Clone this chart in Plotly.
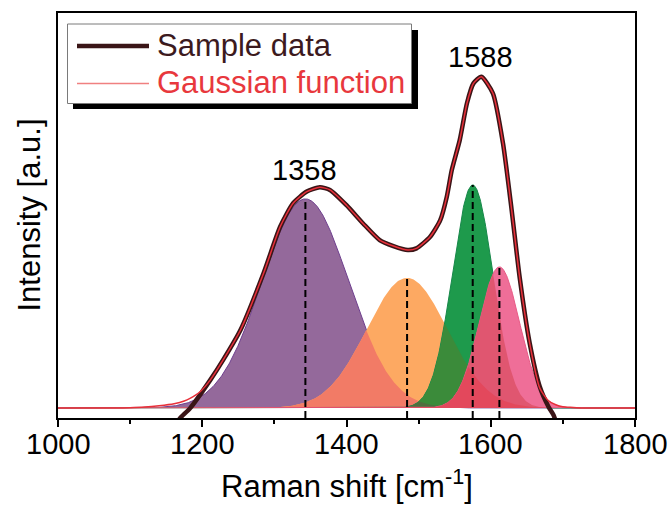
import numpy as np
import plotly.graph_objects as go

# ---------------- data ----------------
# Gaussian components (centre, height, sigma)
peak_names = ["Peak 1", "Peak 2", "Peak 3", "Peak 4"]
peak_centers = [1343, 1484, 1575, 1612]
peak_heights = [0.630, 0.392, 0.672, 0.425]
peak_sigmas = [60, 56, 28, 28]

# measured spectrum (sample data)
sample_x = [1164, 1169, 1183, 1211, 1229, 1253, 1285, 1308, 1326, 1345, 1363, 1377,
            1400, 1423, 1446, 1465, 1485, 1497, 1516, 1530, 1539, 1546, 1557, 1567,
            1576, 1587, 1603, 1617, 1629, 1640, 1654, 1668, 1680, 1687, 1690]
sample_y = [-0.048, -0.031, -0.001, 0.084, 0.145, 0.235, 0.406, 0.546, 0.617, 0.652,
            0.665, 0.657, 0.611, 0.556, 0.506, 0.488, 0.476, 0.481, 0.516, 0.566,
            0.636, 0.717, 0.807, 0.918, 0.978, 0.998, 0.948, 0.797, 0.596, 0.395,
            0.195, 0.064, 0.004, -0.021, -0.039]

# cumulative Gaussian fit
fit_x = [1000, 1080, 1100, 1120, 1140, 1161, 1175, 1183, 1197, 1211, 1229, 1253, 1285,
         1308, 1326, 1345, 1363, 1377, 1400, 1423, 1446, 1465, 1485, 1497, 1516, 1530,
         1539, 1546, 1557, 1567, 1576, 1587, 1603, 1617, 1629, 1640, 1654, 1668, 1680,
         1691, 1700, 1710, 1725, 1800]
fit_y = [0.0, 0.0, 0.001, 0.003, 0.007, 0.013, 0.021, 0.029, 0.049, 0.084, 0.145, 0.235,
         0.406, 0.546, 0.617, 0.652, 0.665, 0.657, 0.611, 0.556, 0.506, 0.488, 0.476,
         0.481, 0.516, 0.566, 0.636, 0.717, 0.807, 0.918, 0.978, 0.998, 0.948, 0.797,
         0.596, 0.395, 0.195, 0.060, 0.022, 0.009, 0.004, 0.002, 0.0, 0.0]

peak_labels = ["1358", "1588"]
peak_label_x = [1342, 1586]
peak_label_y = [0.718, 1.057]

x_ticks = [1000, 1200, 1400, 1600, 1800]
x_tick_labels = ["1000", "1200", "1400", "1600", "1800"]

# ---------------- figure ----------------
W, H = 672, 506
ML, MR, MT, MB = 58, 37, 13, 88
Y0, Y1 = -0.0301, 1.190
PW, PH = W - ML - MR, H - MT - MB


def px(x):
    return (x - ML) / PW


def py(y):
    return (H - MB - y) / PH


grid = np.arange(1000, 1801, 1.0)
comps = [h * np.exp(-0.5 * ((grid - c) / s) ** 2)
         for c, h, s in zip(peak_centers, peak_heights, peak_sigmas)]
P, O, G, K = comps

fig = go.Figure()


def area(y, fill, line=None):
    fig.add_trace(go.Scatter(
        x=grid, y=y, mode="lines", fill="tozeroy", fillcolor=fill,
        line=dict(color=line or fill, width=1 if line else 0),
        hoverinfo="skip", showlegend=False))


area(P, "#94699B", "#6E3F8E")
area(O, "#FDA962")
area(np.minimum(P, O), "#F27B66")
area(G, "#1E9A4C", "#17884A")
area(np.minimum(O, G), "#3B8B3A")
area(np.minimum(np.minimum(P, O), G), "#4F6F3F")
area(K, "#EF6E98", "#E85A86")
area(np.minimum(G, K), "#E05670")
area(np.minimum(O, K), "#E3485C")

# dashed markers at the component centres
for c, h in zip(peak_centers, peak_heights):
    fig.add_trace(go.Scatter(
        x=[c, c], y=[Y0, h], mode="lines",
        line=dict(color="black", width=2, dash="7px,4px"),
        hoverinfo="skip", showlegend=False))

fig.add_trace(go.Scatter(
    x=sample_x, y=sample_y, mode="lines", name="Sample data",
    line=dict(color="#3A1517", width=4.5, shape="spline", smoothing=0.6),
    showlegend=False))
fig.add_trace(go.Scatter(
    x=fit_x, y=fit_y, mode="lines", name="Gaussian function",
    line=dict(color="#E8303A", width=1.5, shape="spline", smoothing=0.6),
    showlegend=False))

for t, x, y in zip(peak_labels, peak_label_x, peak_label_y):
    fig.add_annotation(x=x, y=y, text=t, showarrow=False,
                       font=dict(size=29, color="black"),
                       xanchor="center", yanchor="middle")

# tick labels
for v, t in zip(x_ticks, x_tick_labels):
    fig.add_annotation(x=v, xref="x", yref="paper", y=py(444), text=t,
                       showarrow=False, xanchor="center", yanchor="middle",
                       font=dict(size=29, color="black"))

# ---------------- hand-made legend ----------------
fig.add_shape(type="rect", xref="paper", yref="paper",
              x0=px(73), x1=px(418), y0=py(30), y1=py(109),
              fillcolor="black", line=dict(width=0))
fig.add_shape(type="rect", xref="paper", yref="paper",
              x0=px(67.5), x1=px(411.5), y0=py(24), y1=py(103.5),
              fillcolor="white", line=dict(color="#7a7a7a", width=1))
fig.add_shape(type="line", xref="paper", yref="paper",
              x0=px(77), x1=px(149), y0=py(46), y1=py(46),
              line=dict(color="#3A1517", width=4.5))
fig.add_shape(type="line", xref="paper", yref="paper",
              x0=px(77), x1=px(149), y0=py(83.5), y1=py(83.5),
              line=dict(color="#F08080", width=1.5))
fig.add_annotation(xref="paper", yref="paper", x=px(155), y=py(45),
                   text="Sample data", showarrow=False, xanchor="left",
                   yanchor="middle", font=dict(size=31, color="#3C1A1E"))
fig.add_annotation(xref="paper", yref="paper", x=px(155), y=py(82.5),
                   text="Gaussian function", showarrow=False, xanchor="left",
                   yanchor="middle", font=dict(size=31, color="#E8383D"))

# axis titles
fig.add_annotation(xref="paper", yref="paper", x=0.5, y=py(484),
                   text="Raman shift [cm<sup>-1</sup>]", showarrow=False,
                   xanchor="center", yanchor="middle",
                   font=dict(size=31, color="black"))
fig.add_annotation(xref="paper", yref="paper", x=px(29), y=0.5,
                   text="Intensity [a.u.]", showarrow=False, textangle=-90,
                   xanchor="center", yanchor="middle",
                   font=dict(size=31, color="black"))

fig.update_layout(
    width=W, height=H,
    margin=dict(l=ML, r=MR, t=MT, b=MB, autoexpand=False),
    paper_bgcolor="white", plot_bgcolor="white",
    font=dict(family="Liberation Sans, Arial, sans-serif", color="black"),
    showlegend=False,
)
fig.update_xaxes(
    range=[1000, 1800], tickvals=x_ticks, ticks="outside", ticklen=7,
    tickwidth=1.5, tickcolor="black", showline=True, linecolor="black",
    linewidth=1.5, mirror=True, showgrid=False, zeroline=False,
    showticklabels=False, automargin=False,
    minor=dict(dtick=100, ticks="outside", ticklen=4, tickwidth=1.5,
               tickcolor="black", showgrid=False),
)
fig.update_yaxes(
    range=[Y0, Y1], showticklabels=False, ticks="", showline=True,
    linecolor="black", linewidth=1.5, mirror=True, showgrid=False,
    zeroline=False, automargin=False,
)

fig.write_html(
    "out.html",
    config={"displayModeBar": False},
    post_script="document.body.style.margin='0';document.body.style.overflow='hidden';",
)
